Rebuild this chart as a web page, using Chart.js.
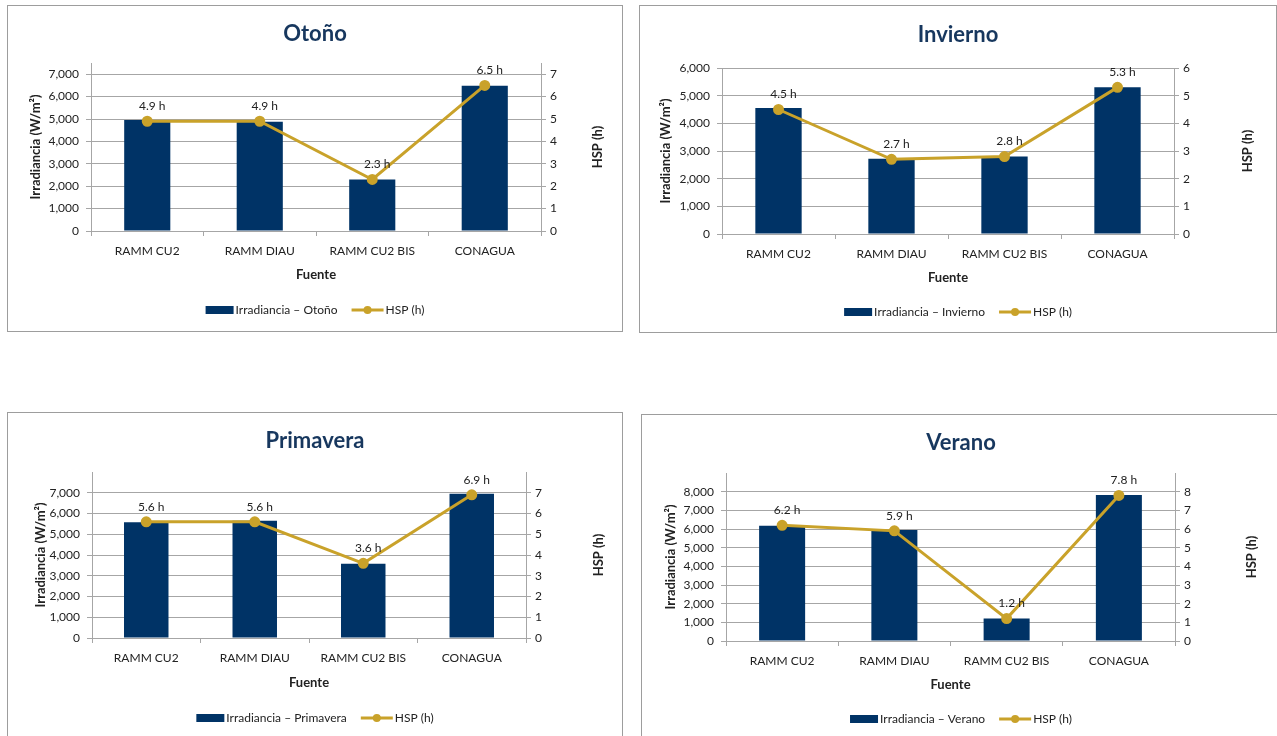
<!DOCTYPE html>
<html>
<head>
<meta charset="utf-8">
<script src="https://cdn.jsdelivr.net/npm/chart.js@4.4.1/dist/chart.umd.min.js"></script>
<style>
  body { margin: 0; background: #fff; width: 1277px; height: 736px; overflow: hidden; position: relative; }
  .box { position: absolute; box-sizing: border-box; border: 1px solid #9d9d9d; background: #fff; }
  .box canvas { position: absolute; left: 0; top: 0; }
</style>
</head>
<body>
<div class="box" style="left:7px;top:5px;width:616px;height:327px"><canvas id="otono" width="614" height="325"></canvas></div>
<div class="box" style="left:639px;top:5px;width:638px;height:328px"><canvas id="invierno" width="636" height="326"></canvas></div>
<div class="box" style="left:7px;top:412px;width:616px;height:327px"><canvas id="primavera" width="614" height="325"></canvas></div>
<div class="box" style="left:641px;top:414px;width:640px;height:327px"><canvas id="verano" width="638" height="325"></canvas></div>
<script>
// data
const categories = ['RAMM CU2', 'RAMM DIAU', 'RAMM CU2 BIS', 'CONAGUA'];

const irrOtono = [4950, 4880, 2300, 6480];
const hspOtono = [4.9, 4.9, 2.3, 6.5];

const irrInvierno = [4550, 2720, 2800, 5300];
const hspInvierno = [4.5, 2.7, 2.8, 5.3];

const irrPrimavera = [5580, 5650, 3580, 6950];
const hspPrimavera = [5.6, 5.6, 3.6, 6.9];

const irrVerano = [6180, 5950, 1200, 7820];
const hspVerano = [6.2, 5.9, 1.2, 7.8];

// axis ranges: [scale max, highest labelled tick]
const axisOtono = [7500, 7000];
const axisInvierno = [6000, 6000];
const axisPrimavera = [8000, 7000];
const axisVerano = [9000, 8000];

const NAVY = '#003366';
const GOLD = '#C9A22A';
const GRID = '#a6a6a6';
const TEXT = '#222';
const TITLE = '#17375E';
const FONT = 'Lato, "Open Sans", sans-serif';

// draws title, right axis title, point labels and legend
const extrasPlugin = {
  id: 'extras',
  afterDatasetsDraw(chart, args, opts) {
    const ctx = chart.ctx;
    const meta = chart.getDatasetMeta(1);
    ctx.save();
    ctx.font = '12px ' + FONT;
    ctx.fillStyle = TEXT;
    ctx.textAlign = 'center';
    ctx.textBaseline = 'middle';
    meta.data.forEach((pt, i) => {
      const v = chart.data.datasets[1].data[i];
      ctx.fillText(v.toFixed(1) + ' h', pt.x + 5, pt.y - 15);
    });
    ctx.restore();
  },
  afterDraw(chart, args, opts) {
    const ctx = chart.ctx;
    const w = chart.width;
    const area = chart.chartArea;
    ctx.save();
    // title
    ctx.font = 'bold 22px ' + FONT;
    ctx.fillStyle = TITLE;
    ctx.textAlign = 'center';
    ctx.textBaseline = 'middle';
    ctx.fillText(opts.title, w / 2, opts.titleY);
    // right axis title, reading bottom to top
    ctx.save();
    ctx.translate(opts.rightTitleX, (area.top + area.bottom) / 2);
    ctx.rotate(-Math.PI / 2);
    ctx.font = 'bold 13px ' + FONT;
    ctx.fillStyle = TEXT;
    ctx.fillText('HSP (h)', 0, 0);
    ctx.restore();
    // legend
    ctx.font = '12px ' + FONT;
    const t1 = chart.data.datasets[0].label;
    const t2 = chart.data.datasets[1].label;
    const w1 = ctx.measureText(t1).width;
    const w2 = ctx.measureText(t2).width;
    const total = 28 + 2 + w1 + 14 + 32 + 2 + w2;
    let x = w / 2 - total / 2;
    const y = opts.legendY;
    ctx.fillStyle = NAVY;
    ctx.fillRect(x, y - 4, 28, 8);
    x += 30;
    ctx.fillStyle = TEXT;
    ctx.textAlign = 'left';
    ctx.fillText(t1, x, y);
    x += w1 + 14;
    ctx.strokeStyle = GOLD;
    ctx.lineWidth = 3;
    ctx.beginPath();
    ctx.moveTo(x, y);
    ctx.lineTo(x + 32, y);
    ctx.stroke();
    ctx.fillStyle = GOLD;
    ctx.beginPath();
    ctx.arc(x + 16, y, 4, 0, Math.PI * 2);
    ctx.fill();
    x += 34;
    ctx.fillStyle = TEXT;
    ctx.fillText(t2, x, y);
    ctx.restore();
  }
};

function makeChart(id, season, irr, hsp, axis, L) {
  const canvas = document.getElementById(id);
  const w = canvas.width, h = canvas.height;
  const yMax = axis[0], yLabelMax = axis[1];
  // keep the scale range from min/max, but only place ticks on whole steps up to the labelled max
  const setTicks = (step, top) => (s) => {
    const ticks = [];
    for (let v = 0; v <= top + 1e-9; v += step) ticks.push({ value: v });
    s.ticks = ticks;
  };
  return new Chart(canvas, {
    data: {
      labels: categories,
      datasets: [
        {
          type: 'bar',
          label: 'Irradiancia \u2013 ' + season,
          data: irr,
          yAxisID: 'y',
          backgroundColor: NAVY,
          barPercentage: 0.41,
          categoryPercentage: 1,
          order: 1
        },
        {
          type: 'line',
          label: 'HSP (h)',
          data: hsp,
          yAxisID: 'y1',
          borderColor: GOLD,
          backgroundColor: GOLD,
          borderWidth: 3,
          pointRadius: 4,
          pointHoverRadius: 4,
          tension: 0,
          order: 0
        }
      ]
    },
    options: {
      responsive: false,
      animation: false,
      layout: { padding: { top: L.plotT, bottom: h - L.xBottom, left: 0, right: 0 } },
      plugins: {
        legend: { display: false },
        title: { display: false },
        tooltip: { enabled: false },
        extras: { title: season, titleY: L.titleY, legendY: L.legendY, rightTitleX: L.rightTitleX }
      },
      scales: {
        x: {
          grid: { offset: true, drawOnChartArea: false, tickLength: 5, color: GRID },
          border: { color: GRID },
          ticks: { font: { family: FONT, size: 12 }, color: TEXT, padding: 8, maxRotation: 0, autoSkip: false },
          title: { display: true, text: 'Fuente', font: { family: FONT, size: 13, weight: 'bold' }, color: TEXT, padding: 0 },
          afterFit(s) { s.height = L.xBottom - L.plotB; }
        },
        y: {
          position: 'left',
          min: 0,
          max: yMax,
          ticks: {
            padding: 7,
            font: { family: FONT, size: 12 },
            color: TEXT,
            callback: (v) => v.toLocaleString('en-US')
          },
          afterBuildTicks: setTicks(1000, yLabelMax),
          grid: { tickLength: 5, color: GRID },
          border: { color: GRID },
          title: {
            display: true,
            text: 'Irradiancia (W/m\u00b2)',
            font: { family: FONT, size: 13, weight: 'bold' },
            color: TEXT,
            padding: { top: L.leftTitleX - 7, bottom: 0 }
          },
          afterFit(s) { s.width = L.plotL; }
        },
        y1: {
          position: 'right',
          min: 0,
          max: yMax / 1000,
          ticks: {
            padding: 4,
            font: { family: FONT, size: 12 },
            color: TEXT,
            callback: (v) => String(v)
          },
          afterBuildTicks: setTicks(1, yLabelMax / 1000),
          grid: { drawOnChartArea: false, tickLength: 5, color: GRID },
          border: { color: GRID },
          afterFit(s) { s.width = w - L.plotR; }
        }
      }
    },
    plugins: [extrasPlugin]
  });
}

makeChart('otono', 'Otoño', irrOtono, hspOtono, axisOtono,
  { plotL: 83, plotR: 533, plotT: 57, plotB: 225, xBottom: 277, titleY: 28, legendY: 304, leftTitleX: 27, rightTitleX: 590 });
makeChart('invierno', 'Invierno', irrInvierno, hspInvierno, axisInvierno,
  { plotL: 82, plotR: 534, plotT: 62, plotB: 228, xBottom: 280, titleY: 29, legendY: 306, leftTitleX: 25, rightTitleX: 608 });
makeChart('primavera', 'Primavera', irrPrimavera, hspPrimavera, axisPrimavera,
  { plotL: 84, plotR: 518, plotT: 59, plotB: 225, xBottom: 278, titleY: 28, legendY: 305, leftTitleX: 32, rightTitleX: 591 });
makeChart('verano', 'Verano', irrVerano, hspVerano, axisVerano,
  { plotL: 84, plotR: 533, plotT: 58, plotB: 226, xBottom: 278, titleY: 28, legendY: 304, leftTitleX: 28, rightTitleX: 610 });
</script>
</body>
</html>
